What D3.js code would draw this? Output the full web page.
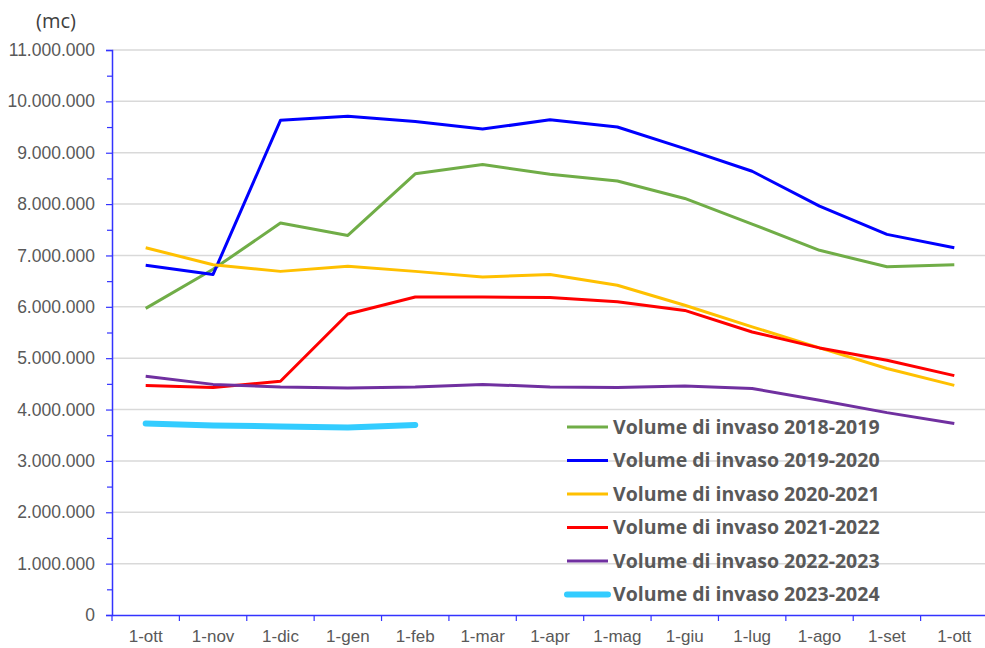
<!DOCTYPE html>
<html>
<head>
<meta charset="utf-8">
<script src="https://cdn.jsdelivr.net/npm/d3@7"></script>
<style>
  body { margin: 0; background: #fff; }
  svg { display: block; font-family: "Open Sans", sans-serif; }
</style>
</head>
<body>
<svg id="chart" width="985" height="648"></svg>
<script>
var months = ["1-ott", "1-nov", "1-dic", "1-gen", "1-feb", "1-mar", "1-apr",
  "1-mag", "1-giu", "1-lug", "1-ago", "1-set", "1-ott"];

var seriesNames = ["Volume di invaso 2018-2019", "Volume di invaso 2019-2020",
  "Volume di invaso 2020-2021", "Volume di invaso 2021-2022",
  "Volume di invaso 2022-2023", "Volume di invaso 2023-2024"];

var v2018 = [5970000, 6730000, 7630000, 7390000, 8590000, 8770000, 8580000, 8450000, 8110000, 7610000, 7100000, 6780000, 6820000];
var v2019 = [6810000, 6630000, 9630000, 9710000, 9610000, 9460000, 9640000, 9500000, 9080000, 8640000, 7960000, 7410000, 7150000];
var v2020 = [7150000, 6820000, 6690000, 6790000, 6690000, 6580000, 6630000, 6420000, 6030000, 5610000, 5200000, 4800000, 4470000];
var v2021 = [4470000, 4430000, 4550000, 5860000, 6190000, 6190000, 6180000, 6100000, 5930000, 5510000, 5200000, 4960000, 4660000];
var v2022 = [4650000, 4490000, 4440000, 4420000, 4440000, 4490000, 4440000, 4430000, 4460000, 4410000, 4180000, 3940000, 3730000];
var v2023 = [3730000, 3690000, 3670000, 3650000, 3700000];

var yTicks = d3.range(0, 11000001, 1000000);

var colors = ["#70ad47", "#0000ff", "#ffc000", "#ff0000", "#7030a0", "#33ccff"];
var widths = [3, 3, 3, 3, 3, 6];
var allSeries = [v2018, v2019, v2020, v2021, v2022, v2023];

var svg = d3.select("#chart");
var plotL = 112, plotR = 988, plotT = 50, plotB = 615;
var axisColor = "#3333ff", textColor = "#595959";

var x = d3.scaleBand().domain(d3.range(months.length)).range([plotL, plotR]).padding(0);
var y = d3.scaleLinear().domain([0, 11000000]).range([plotB, plotT]);
var bw = x.bandwidth();

var itFormat = d3.formatLocale({ decimal: ",", thousands: ".", grouping: [3], currency: ["€", ""] }).format(",d");

// gridlines
svg.append("g")
  .selectAll("line")
  .data(yTicks.slice(1))
  .enter().append("line")
    .attr("x1", plotL).attr("x2", 985)
    .attr("y1", function(d) { return y(d); })
    .attr("y2", function(d) { return y(d); })
    .attr("stroke", "#d9d9d9")
    .attr("stroke-width", 1.5);

// y axis
var yAxis = svg.append("g")
  .attr("transform", "translate(" + plotL + ",0)")
  .call(d3.axisLeft(y).tickValues(yTicks).tickFormat(itFormat).tickSize(6).tickPadding(11));
yAxis.select(".domain").attr("stroke", axisColor).attr("stroke-width", 1.5);
yAxis.selectAll(".tick line").attr("stroke", axisColor).attr("stroke-width", 1.2);
yAxis.selectAll("text").attr("fill", textColor).attr("font-size", 17.5);

svg.append("g")
  .attr("transform", "translate(" + plotL + ",0)")
  .call(d3.axisLeft(y).tickValues(d3.range(500000, 11000000, 1000000)).tickFormat("").tickSize(5))
  .call(function(g) {
    g.select(".domain").remove();
    g.selectAll(".tick line").attr("stroke", axisColor).attr("stroke-width", 1.2);
  });

// x axis
var xAxis = svg.append("g")
  .attr("transform", "translate(0," + plotB + ")")
  .call(d3.axisBottom(x).tickFormat(function(i) { return months[i]; }).tickSize(0).tickPadding(15));
xAxis.select(".domain").attr("stroke", axisColor).attr("stroke-width", 1.5);
xAxis.selectAll("text").attr("fill", textColor).attr("font-size", 17);

svg.append("g")
  .selectAll("line")
  .data(d3.range(months.length + 1))
  .enter().append("line")
    .attr("x1", function(i) { return plotL + i * x.step(); })
    .attr("x2", function(i) { return plotL + i * x.step(); })
    .attr("y1", plotB).attr("y2", plotB + 6)
    .attr("stroke", axisColor).attr("stroke-width", 1.2);

// unit label
svg.append("text")
  .attr("x", 36).attr("y", 28)
  .attr("fill", "#404040").attr("font-size", 20)
  .text("(mc)");

// lines
var line = d3.line()
  .x(function(d, i) { return x(i) + bw / 2; })
  .y(function(d) { return y(d); });

svg.append("g")
  .attr("fill", "none")
  .attr("stroke-linejoin", "round")
  .selectAll("path")
  .data(allSeries)
  .enter().append("path")
    .attr("stroke", function(d, i) { return colors[i]; })
    .attr("stroke-width", function(d, i) { return widths[i]; })
    .attr("stroke-linecap", function(d, i) { return i === 5 ? "round" : "butt"; })
    .attr("d", line);

// legend
var legend = svg.append("g")
  .selectAll("g")
  .data(seriesNames)
  .enter().append("g")
    .attr("transform", function(d, i) { return "translate(567," + (427 + i * 33.5) + ")"; });

legend.append("line")
  .attr("x1", 0).attr("x2", 41)
  .attr("stroke", function(d, i) { return colors[i]; })
  .attr("stroke-width", function(d, i) { return widths[i]; })
  .attr("stroke-linecap", function(d, i) { return i === 5 ? "round" : "butt"; });

legend.append("text")
  .attr("x", 46).attr("dy", "0.35em")
  .attr("fill", textColor)
  .attr("font-size", 19.5)
  .attr("font-weight", "bold")
  .text(function(d) { return d; });
</script>
</body>
</html>
